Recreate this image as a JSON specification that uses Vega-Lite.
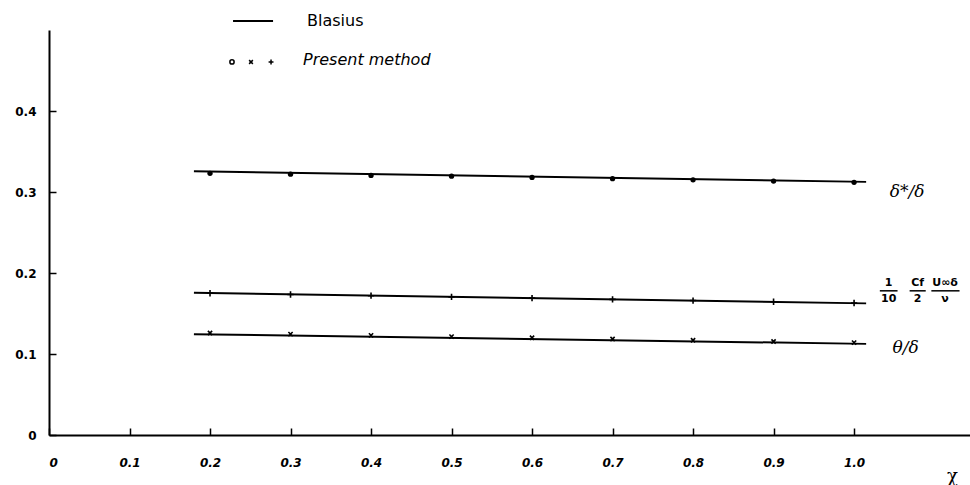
{
  "$schema": "https://vega.github.io/schema/vega-lite/v6.json",
  "width": 921,
  "height": 405,
  "autosize": {"type": "none"},
  "padding": {"left": 49, "top": 30, "right": 0, "bottom": 50},
  "background": "white",
  "config": {
    "view": {"stroke": null},
    "axis": {
      "grid": false,
      "domainColor": "black",
      "domainWidth": 2,
      "tickColor": "black",
      "tickWidth": 1.5,
      "tickSize": -7,
      "labelColor": "black",
      "labelFont": "DejaVu Sans",
      "labelFontWeight": "bold",
      "labelFontSize": 12
    }
  },
  "datasets": {
    "blasius": [
      {"quantity": "delta_star", "x": 0.18, "y": 0.3255},
      {"quantity": "delta_star", "x": 1.015, "y": 0.3125},
      {"quantity": "skin_friction", "x": 0.18, "y": 0.1755},
      {"quantity": "skin_friction", "x": 1.015, "y": 0.1625},
      {"quantity": "theta", "x": 0.18, "y": 0.1245},
      {"quantity": "theta", "x": 1.015, "y": 0.1125}
    ],
    "present": [
      {"quantity": "delta_star", "x": 0.2, "y": 0.323},
      {"quantity": "delta_star", "x": 0.3, "y": 0.322},
      {"quantity": "delta_star", "x": 0.4, "y": 0.3205},
      {"quantity": "delta_star", "x": 0.5, "y": 0.3195},
      {"quantity": "delta_star", "x": 0.6, "y": 0.318},
      {"quantity": "delta_star", "x": 0.7, "y": 0.3165},
      {"quantity": "delta_star", "x": 0.8, "y": 0.315},
      {"quantity": "delta_star", "x": 0.9, "y": 0.3135},
      {"quantity": "delta_star", "x": 1.0, "y": 0.312},
      {"quantity": "skin_friction", "x": 0.2, "y": 0.175},
      {"quantity": "skin_friction", "x": 0.3, "y": 0.1735},
      {"quantity": "skin_friction", "x": 0.4, "y": 0.172},
      {"quantity": "skin_friction", "x": 0.5, "y": 0.1705},
      {"quantity": "skin_friction", "x": 0.6, "y": 0.169},
      {"quantity": "skin_friction", "x": 0.7, "y": 0.1675},
      {"quantity": "skin_friction", "x": 0.8, "y": 0.166},
      {"quantity": "skin_friction", "x": 0.9, "y": 0.1645},
      {"quantity": "skin_friction", "x": 1.0, "y": 0.163},
      {"quantity": "theta", "x": 0.2, "y": 0.126},
      {"quantity": "theta", "x": 0.3, "y": 0.1245},
      {"quantity": "theta", "x": 0.4, "y": 0.123},
      {"quantity": "theta", "x": 0.5, "y": 0.1215},
      {"quantity": "theta", "x": 0.6, "y": 0.12},
      {"quantity": "theta", "x": 0.7, "y": 0.1185},
      {"quantity": "theta", "x": 0.8, "y": 0.117},
      {"quantity": "theta", "x": 0.9, "y": 0.1155},
      {"quantity": "theta", "x": 1.0, "y": 0.114}
    ],
    "curveLabels": [
      {"text": "δ*/δ", "x": 1.066, "y": 0.3},
      {"text": "θ/δ", "x": 1.064, "y": 0.107}
    ],
    "fracTop": [
      {"text": "1", "x": 1.043, "y": 0.188},
      {"text": "Cf", "x": 1.079, "y": 0.188},
      {"text": "U∞δ", "x": 1.113, "y": 0.188}
    ],
    "fracBottom": [
      {"text": "10", "x": 1.043, "y": 0.168},
      {"text": "2", "x": 1.079, "y": 0.168},
      {"text": "ν", "x": 1.113, "y": 0.168}
    ],
    "fracBars": [
      {"x": 1.032, "x2": 1.054, "y": 0.178},
      {"x": 1.069, "x2": 1.089, "y": 0.178},
      {"x": 1.096, "x2": 1.131, "y": 0.178}
    ],
    "legendLine": [{"x": 0.2286, "x2": 0.2783, "y": 0.511}],
    "legendBlasius": [{"text": "Blasius", "x": 0.3205, "y": 0.511}],
    "legendCircle": [{"x": 0.2273, "y": 0.4605}],
    "legendX": [{"x": 0.2509, "y": 0.4605}],
    "legendPlus": [{"x": 0.2758, "y": 0.4605}],
    "legendPresent": [{"text": "Present method", "x": 0.3155, "y": 0.4625}]
  },
  "layer": [
    {
      "data": {"name": "blasius"},
      "mark": {"type": "line", "color": "black", "strokeWidth": 2},
      "encoding": {
        "x": {
          "field": "x", "type": "quantitative",
          "scale": {"domain": [0, 1.144], "nice": false, "zero": false},
          "axis": {
            "values": [0, 0.1, 0.2, 0.3, 0.4, 0.5, 0.6, 0.7, 0.8, 0.9, 1.0],
            "labelExpr": "datum.value == 0 ? '0' : format(datum.value, '.1f')",
            "labelPadding": 29,
            "labelFontStyle": "italic",
            "title": "χ",
            "titleFont": "DejaVu Serif",
            "titleFontSize": 18,
            "titleFontWeight": "normal",
            "titleAngle": 0,
            "titleX": 903,
            "titleY": 32,
            "titleAlign": "center"
          }
        },
        "y": {
          "field": "y", "type": "quantitative",
          "scale": {"domain": [0, 0.5], "nice": false},
          "axis": {
            "values": [0, 0.1, 0.2, 0.3, 0.4],
            "labelExpr": "datum.value == 0 ? '0' : format(datum.value, '.1f')",
            "labelPadding": 20,
            "title": null
          }
        },
        "detail": {"field": "quantity"}
      }
    },
    {
      "data": {"name": "present"},
      "transform": [{"filter": "datum.quantity == 'delta_star'"}],
      "mark": {"type": "point", "shape": "circle", "filled": true, "color": "black", "size": 28, "opacity": 1},
      "encoding": {
        "x": {"field": "x", "type": "quantitative"},
        "y": {"field": "y", "type": "quantitative"}
      }
    },
    {
      "data": {"name": "present"},
      "transform": [{"filter": "datum.quantity == 'skin_friction'"}],
      "mark": {"type": "point", "shape": "M-1,0H1M0,-1V1", "filled": false, "color": "black", "strokeWidth": 1.6, "size": 40, "opacity": 1},
      "encoding": {
        "x": {"field": "x", "type": "quantitative"},
        "y": {"field": "y", "type": "quantitative"}
      }
    },
    {
      "data": {"name": "present"},
      "transform": [{"filter": "datum.quantity == 'theta'"}],
      "mark": {"type": "point", "shape": "M-1,-1L1,1M1,-1L-1,1", "filled": false, "color": "black", "strokeWidth": 1.6, "size": 18, "opacity": 1},
      "encoding": {
        "x": {"field": "x", "type": "quantitative"},
        "y": {"field": "y", "type": "quantitative"}
      }
    },
    {
      "data": {"name": "curveLabels"},
      "mark": {"type": "text", "font": "DejaVu Serif", "fontSize": 17, "fontStyle": "italic", "color": "black", "align": "center", "baseline": "middle"},
      "encoding": {
        "x": {"field": "x", "type": "quantitative"},
        "y": {"field": "y", "type": "quantitative"},
        "text": {"field": "text"}
      }
    },
    {
      "data": {"name": "fracTop"},
      "mark": {"type": "text", "font": "DejaVu Sans", "fontSize": 11, "fontWeight": "bold", "color": "black", "align": "center", "baseline": "middle"},
      "encoding": {
        "x": {"field": "x", "type": "quantitative"},
        "y": {"field": "y", "type": "quantitative"},
        "text": {"field": "text"}
      }
    },
    {
      "data": {"name": "fracBottom"},
      "mark": {"type": "text", "font": "DejaVu Sans", "fontSize": 11, "fontWeight": "bold", "color": "black", "align": "center", "baseline": "middle"},
      "encoding": {
        "x": {"field": "x", "type": "quantitative"},
        "y": {"field": "y", "type": "quantitative"},
        "text": {"field": "text"}
      }
    },
    {
      "data": {"name": "fracBars"},
      "mark": {"type": "rule", "color": "black", "strokeWidth": 1.5},
      "encoding": {
        "x": {"field": "x", "type": "quantitative"},
        "x2": {"field": "x2"},
        "y": {"field": "y", "type": "quantitative"}
      }
    },
    {
      "data": {"name": "legendLine"},
      "mark": {"type": "rule", "color": "black", "strokeWidth": 2, "clip": false},
      "encoding": {
        "x": {"field": "x", "type": "quantitative"},
        "x2": {"field": "x2"},
        "y": {"field": "y", "type": "quantitative"}
      }
    },
    {
      "data": {"name": "legendBlasius"},
      "mark": {"type": "text", "font": "DejaVu Sans", "fontSize": 16, "color": "black", "align": "left", "baseline": "middle"},
      "encoding": {
        "x": {"field": "x", "type": "quantitative"},
        "y": {"field": "y", "type": "quantitative"},
        "text": {"field": "text"}
      }
    },
    {
      "data": {"name": "legendCircle"},
      "mark": {"type": "point", "shape": "circle", "filled": false, "color": "black", "strokeWidth": 1.5, "size": 18, "opacity": 1},
      "encoding": {
        "x": {"field": "x", "type": "quantitative"},
        "y": {"field": "y", "type": "quantitative"}
      }
    },
    {
      "data": {"name": "legendX"},
      "mark": {"type": "point", "shape": "M-1,-1L1,1M1,-1L-1,1", "filled": false, "color": "black", "strokeWidth": 1.5, "size": 14, "opacity": 1},
      "encoding": {
        "x": {"field": "x", "type": "quantitative"},
        "y": {"field": "y", "type": "quantitative"}
      }
    },
    {
      "data": {"name": "legendPlus"},
      "mark": {"type": "point", "shape": "M-1,0H1M0,-1V1", "filled": false, "color": "black", "strokeWidth": 1.5, "size": 24, "opacity": 1},
      "encoding": {
        "x": {"field": "x", "type": "quantitative"},
        "y": {"field": "y", "type": "quantitative"}
      }
    },
    {
      "data": {"name": "legendPresent"},
      "mark": {"type": "text", "font": "DejaVu Sans", "fontSize": 16, "fontStyle": "italic", "color": "black", "align": "left", "baseline": "middle"},
      "encoding": {
        "x": {"field": "x", "type": "quantitative"},
        "y": {"field": "y", "type": "quantitative"},
        "text": {"field": "text"}
      }
    }
  ]
}
